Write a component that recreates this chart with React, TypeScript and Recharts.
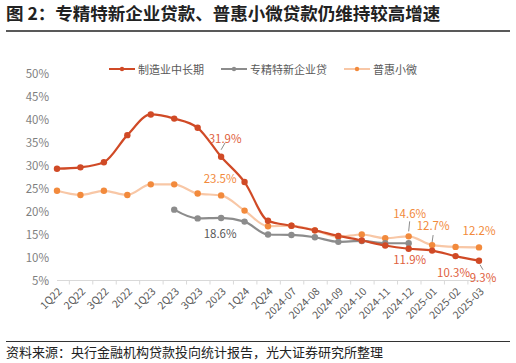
import React from "react";
import { LineChart, Line, XAxis, YAxis, Legend } from "recharts";

const categories = [
  "1Q22", "2Q22", "3Q22", "2022", "1Q23", "2Q23", "3Q23", "2023", "1Q24", "2Q24",
  "2024-07", "2024-08", "2024-09", "2024-10", "2024-11", "2024-12", "2025-01", "2025-02", "2025-03",
];

// 制造业中长期
const manufacturing = [29.3, 29.6, 30.7, 36.6, 41.1, 40.2, 38.2, 31.9, 26.4, 18.0, 16.9, 15.9, 14.7, 13.7, 12.6, 11.9, 11.5, 10.3, 9.3];
// 专精特新企业贷
const specialized = [null, null, null, null, null, 20.4, 18.5, 18.6, 17.8, 15.0, 14.9, 14.4, 13.4, 13.6, 13.1, 13.1, null, null, null];
// 普惠小微
const inclusive = [24.5, 23.6, 24.5, 23.6, 25.9, 25.9, 23.9, 23.5, 20.2, 16.8, 16.9, 15.9, 14.5, 15.0, 14.2, 14.6, 12.7, 12.3, 12.2];

const yTicks = [5, 10, 15, 20, 25, 30, 35, 40, 45, 50];

const data = categories.map((name, i) => ({
  name,
  manufacturing: manufacturing[i],
  specialized: specialized[i],
  inclusive: inclusive[i],
}));

const RED = "#D04A26";
const RED_TEXT = "#E0603C";
const GRAY = "#8C8C8C";
const ORANGE = "#F28A3C";
const PEACH = "#F8C7A6";
const FONT = "'Noto Sans CJK SC', 'Noto Sans', sans-serif";

const W = 516;
const H = 340;
const M = { top: 57.5, right: 37, left: 0, bottom: 0 };
const Y_W = 57;
const BAND = (W - Y_W - M.right) / categories.length;

// label offsets: index -> [dx, dy, leader]
type Off = { dx: number; dy: number; lead?: [number, number, number, number] };
const redLabelPos: Record<number, Off> = {
  7: { dx: 4, dy: -18, lead: [0, -7, 4, -14] },
  15: { dx: 1, dy: 11 },
  17: { dx: -2, dy: 17 },
  18: { dx: 4, dy: 17, lead: [1, 4, 4, 9] },
};
const orangeLabelPos: Record<number, Off> = {
  7: { dx: -1, dy: -16 },
  15: { dx: 1, dy: -22, lead: [0, -5, 1, -15] },
  16: { dx: 1, dy: -19, lead: [0, -3, 1, -10] },
  18: { dx: 0, dy: -16 },
};
const grayLabelPos: Record<number, Off> = {
  7: { dx: -1, dy: 16 },
};

function makeLabel(pos: Record<number, Off>, color: string, leadColor: string) {
  return (props: any) => {
    const { x, y, value, index } = props;
    const o = pos[index];
    if (!o || value == null) return <g key={`l-${index}`} />;
    return (
      <g key={`l-${index}`}>
        {o.lead && (
          <line x1={x + o.lead[0]} y1={y + o.lead[1]} x2={x + o.lead[2]} y2={y + o.lead[3]} stroke={leadColor} strokeWidth={1} />
        )}
        <text x={x + o.dx} y={y + o.dy} dy="0.35em" textAnchor="middle" fontSize={11.5} fontFamily={FONT} fill={color}>
          {`${value}%`}
        </text>
      </g>
    );
  };
}

function XTick(props: any) {
  const { x, y, payload, index } = props;
  return (
    <g>
      <line x1={x - BAND / 2} y1={y} x2={x - BAND / 2} y2={y + 4} stroke="#D9D9D9" />
      {index === categories.length - 1 && (
        <line x1={x + BAND / 2} y1={y} x2={x + BAND / 2} y2={y + 4} stroke="#D9D9D9" />
      )}
      <text
        x={x + 3}
        y={y + 9}
        textAnchor="end"
        transform={`rotate(-45 ${x + 3} ${y + 9})`}
        fontSize={10.5}
        fontFamily={FONT}
        fill="#595959"
        dy="0.35em"
      >
        {payload.value}
      </text>
    </g>
  );
}

const legendItems = [
  { name: "制造业中长期", line: RED, dot: RED },
  { name: "专精特新企业贷", line: GRAY, dot: GRAY },
  { name: "普惠小微", line: PEACH, dot: ORANGE },
];

function LegendContent() {
  return (
    <div style={{ display: "flex", alignItems: "center", gap: 17, fontFamily: FONT, fontSize: 11, color: "#595959" }}>
      {legendItems.map((it) => (
        <div key={it.name} style={{ display: "flex", alignItems: "center", gap: 3 }}>
          <svg width={26} height={8}>
            <line x1={0} y1={4} x2={26} y2={4} stroke={it.line} strokeWidth={2} />
            <circle cx={13} cy={4} r={2.2} fill={it.dot} />
          </svg>
          <span>{it.name}</span>
        </div>
      ))}
    </div>
  );
}

export default function App() {
  return (
    <div style={{ position: "fixed", top: 0, left: 0, width: W, height: 363, background: "#fff", fontFamily: FONT }}>
      <div style={{ position: "absolute", left: 6, top: 2, fontSize: 17.5, fontWeight: 700, color: "#222", lineHeight: "22px", whiteSpace: "nowrap" }}>
        图 2：专精特新企业贷款、普惠小微贷款仍维持较高增速
      </div>
      <div style={{ position: "absolute", left: 6, top: 30, width: 504, height: 1.5, background: "#595959" }} />
      <div style={{ position: "absolute", left: 0, top: 0 }}>
        <LineChart width={W} height={H} data={data} margin={M}>
          <XAxis
            dataKey="name"
            interval={0}
            tick={<XTick />}
            tickLine={false}
            tickSize={0}
            tickMargin={0}
            height={H - M.top - 223}
            axisLine={{ stroke: "#D9D9D9" }}
          />
          <YAxis
            domain={[5, 50]}
            ticks={yTicks}
            width={Y_W}
            axisLine={false}
            tickLine={false}
            tickFormatter={(v) => `${v}%`}
            tick={{ fontSize: 11.5, fill: "#7F7F7F", fontFamily: FONT }}
          />
          <Legend
            verticalAlign="top"
            content={<LegendContent />}
            wrapperStyle={{ position: "absolute", top: 61, left: 109, width: "auto" }}
          />
          <Line
            type="monotone"
            dataKey="inclusive"
            stroke={PEACH}
            strokeWidth={2.2}
            dot={{ r: 3.2, fill: ORANGE, stroke: "none" }}
            isAnimationActive={false}
            label={makeLabel(orangeLabelPos, ORANGE, "#8C8C8C")}
          />
          <Line
            type="monotone"
            dataKey="specialized"
            stroke={GRAY}
            strokeWidth={2.2}
            dot={{ r: 3.2, fill: GRAY, stroke: "none" }}
            isAnimationActive={false}
            label={makeLabel(grayLabelPos, "#595959", GRAY)}
          />
          <Line
            type="monotone"
            dataKey="manufacturing"
            stroke={RED}
            strokeWidth={2.2}
            dot={{ r: 3.2, fill: RED, stroke: "none" }}
            isAnimationActive={false}
            label={makeLabel(redLabelPos, RED_TEXT, "#8C8C8C")}
          />
        </LineChart>
      </div>
      <div style={{ position: "absolute", left: 6, top: 341, width: 504, height: 1, background: "#333" }} />
      <div style={{ position: "absolute", left: 6, top: 343, fontSize: 13, color: "#222", lineHeight: "18px", whiteSpace: "nowrap" }}>
        资料来源：央行金融机构贷款投向统计报告，光大证券研究所整理
      </div>
    </div>
  );
}
